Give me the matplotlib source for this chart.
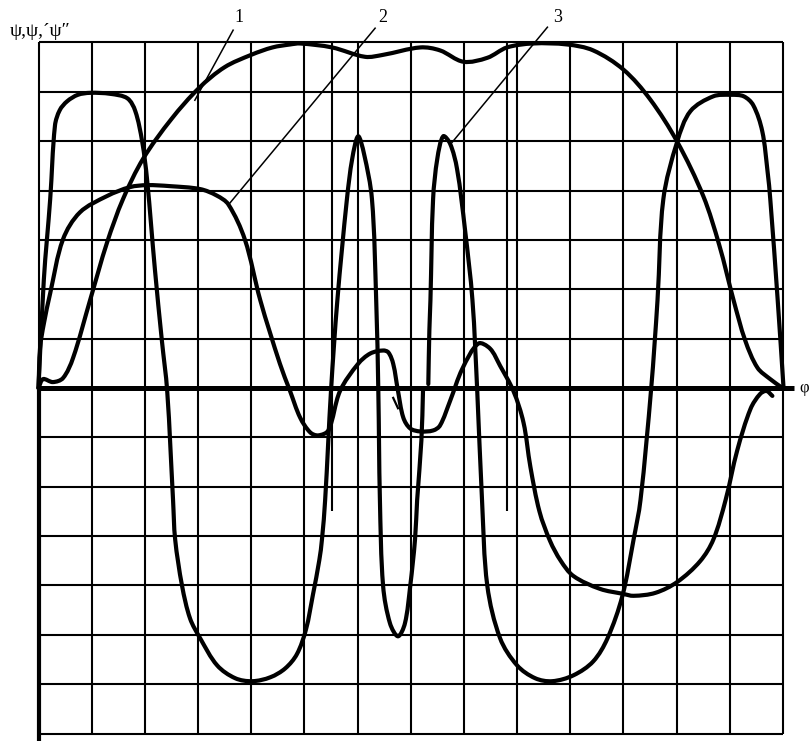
import matplotlib.pyplot as plt
import numpy as np
from matplotlib.path import Path
from matplotlib.patches import PathPatch

# curve 1 - psi (displacement)
phi_1 = [0, 0.085, 0.27, 0.46, 0.65, 0.97, 1.29, 1.59, 1.97, 2.5, 3.02, 3.5, 4.0, 4.4, 4.73, 4.92,
         5.52, 6.14, 6.48, 7.18, 7.55, 7.99, 8.44, 8.81, 9.30, 9.94, 10.43, 11.0, 11.5, 12.01,
         12.5, 12.8, 13.07, 13.29, 13.52, 13.76, 13.99]
psi_1 = [0, 0.18, 0.12, 0.20, 0.61, 1.78, 2.95, 3.83, 4.65, 5.45, 6.08, 6.5, 6.75, 6.9, 6.96, 6.98,
         6.90, 6.71, 6.75, 6.90, 6.84, 6.61, 6.69, 6.90, 6.98, 6.96, 6.84, 6.45, 5.85, 4.99,
         3.89, 2.9, 1.78, 0.96, 0.41, 0.18, 0]

# curve 2 - psi' (velocity)
phi_2 = [0, 0.03, 0.1, 0.22, 0.46, 0.78, 1.29, 1.72, 2.04, 2.47, 3.04, 3.35, 3.57, 3.88, 4.17,
         4.54, 4.73, 4.92, 5.11, 5.26, 5.45, 5.67, 6.01, 6.24, 6.48, 6.58, 6.67, 6.76, 6.86,
         6.99, 7.18, 7.42, 7.55, 7.74, 7.97, 8.27, 8.49, 8.68, 8.93, 9.12, 9.25, 9.42, 9.62, 9.82,
         10.06, 10.56, 10.99, 11.19, 11.60, 12.01, 12.44, 12.69, 12.92, 13.14, 13.39, 13.57, 13.69,
         13.80]
psi_2 = [0, 0.82, 1.3, 1.92, 3.01, 3.56, 3.89, 4.07, 4.11, 4.09, 4.03, 3.9, 3.72, 3.01, 1.78,
         0.49, -0.06, -0.60, -0.90, -0.96, -0.86, -0.06, 0.49, 0.70, 0.76, 0.72, 0.49, -0.06, -0.60,
         -0.82, -0.88, -0.86, -0.76, -0.26, 0.39, 0.90, 0.80, 0.45, -0.06, -0.70, -1.60, -2.50,
         -3.10, -3.50, -3.81, -4.07, -4.17, -4.21, -4.15, -3.93, -3.51, -3.07, -2.27, -1.26, -0.42,
         -0.12, -0.06, -0.16]

# curve 3 - psi'' (acceleration), drawn in two pieces
phi_3a = [0, 0.10, 0.22, 0.31, 0.40, 0.54, 0.74, 0.97, 1.35, 1.67, 1.82, 1.95, 2.04, 2.19, 2.32,
          2.42, 2.53, 2.57, 2.70, 2.85, 3.04, 3.36, 3.70, 4.02, 4.36, 4.64, 4.86, 5.03, 5.16, 5.28,
          5.33, 5.39, 5.50, 5.62, 5.80, 5.90, 6.01, 6.12, 6.27, 6.35, 6.39, 6.42, 6.48, 6.61, 6.76,
          6.89, 6.99, 7.08, 7.12, 7.20, 7.23]
psi_3a = [0, 2.19, 3.83, 5.32, 5.63, 5.81, 5.94, 5.98, 5.96, 5.87, 5.61, 4.99, 4.24, 2.39, 0.96,
          -0.06, -2.27, -3.07, -4.01, -4.67, -5.07, -5.62, -5.88, -5.94, -5.86, -5.68, -5.39, -4.89,
          -4.19, -3.49, -3.07, -2.27, -0.06, 1.78, 3.83, 4.65, 5.10, 4.75, 3.83, 1.78, -0.06, -2.27,
          -4.01, -4.77, -5.03, -4.77, -4.01, -3.07, -2.27, -1.06, -0.06]
phi_3b = [7.33, 7.35, 7.37, 7.42, 7.50, 7.61, 7.74, 7.87, 8.02, 8.16, 8.25, 8.34, 8.44, 8.68,
          9.00, 9.34, 9.66, 10.06, 10.43, 10.70, 10.98, 11.19, 11.32, 11.52, 11.64, 11.75, 12.01,
          12.26, 12.69, 13.02, 13.26, 13.44, 13.61, 13.71, 13.76, 13.90, 14.01]
psi_3b = [0.08, 1.17, 1.78, 3.83, 4.65, 5.10, 4.95, 4.44, 3.21, 1.78, -0.06, -2.27, -4.01, -5.07,
          -5.62, -5.88, -5.94, -5.82, -5.54, -5.07, -4.21, -3.07, -2.27, -0.02, 1.78, 3.83, 4.99,
          5.61, 5.91, 5.94, 5.91, 5.73, 5.20, 4.38, 3.83, 1.78, 0]

# grid positions
grid_x = list(range(0, 15))
extra_x = [5.52, 8.81]
grid_y = list(range(-7, 8))

# curve labels: number, text position, leader start, leader end
labels = [("1", (3.77, 7.50), (3.66, 7.25), (2.94, 5.83)),
          ("2", (6.48, 7.50), (6.33, 7.29), (3.57, 3.71)),
          ("3", (9.76, 7.50), (9.57, 7.31), (7.78, 4.98))]


def smooth_path(xs, ys):
    """Bezier path through the points, tangents from neighbouring chords."""
    p = np.column_stack([xs, ys]).astype(float)
    d = np.hypot(*np.diff(p, axis=0).T)
    n = len(p)
    tang = np.zeros_like(p)
    tang[0] = (p[1] - p[0]) / d[0]
    tang[-1] = (p[-1] - p[-2]) / d[-1]
    for i in range(1, n - 1):
        tang[i] = (p[i + 1] - p[i - 1]) / (d[i - 1] + d[i])
    verts = [p[0]]
    codes = [Path.MOVETO]
    for i in range(n - 1):
        verts += [p[i] + tang[i] * d[i] / 3, p[i + 1] - tang[i + 1] * d[i] / 3, p[i + 1]]
        codes += [Path.CURVE4] * 3
    return Path(verts, codes)


fig = plt.figure(figsize=(8.12, 7.43), dpi=100)
ax = fig.add_axes([0, 0, 1, 1])
ax.set_xlim(-0.724, 14.545)
ax.set_ylim(-7.192, 7.861)
ax.axis('off')

grid_kw = dict(color='black', lw=1.5, solid_capstyle='butt', zorder=1)
for gx in grid_x:
    ax.plot([gx, gx], [-7, 7], **grid_kw)
for gx in extra_x:
    ax.plot([gx, gx], [-2.5, 7], **grid_kw)
for gy in grid_y:
    if gy != 0:
        ax.plot([0, 14], [gy, gy], **grid_kw)

# axes
ax.plot([0, 14.2], [0, 0], color='black', lw=3.6, solid_capstyle='butt', zorder=2)
ax.plot([0, 0], [0, -7.15], color='black', lw=3.0, solid_capstyle='butt', zorder=2)

for xs, ys in [(phi_1, psi_1), (phi_2, psi_2), (phi_3a, psi_3a), (phi_3b, psi_3b)]:
    ax.add_patch(PathPatch(smooth_path(xs, ys), facecolor='none', edgecolor='black',
                           lw=3.0, joinstyle='round', capstyle='round', zorder=3))

# small stroke near the middle of the axis
ax.plot([6.67, 6.76], [-0.20, -0.41], color='black', lw=1.6, zorder=3)

serif = ['Liberation Serif', 'DejaVu Serif']
for num, (tx, ty), (x0, y0), (x1, y1) in labels:
    ax.text(tx, ty, num, fontsize=13, family=serif, ha='center', va='center')
    ax.plot([x0, x1], [y0, y1], color='black', lw=1.1, zorder=3)

ax.text(-0.54, 7.22, "ψ,ψ,´ψ″", fontsize=14, family=serif, ha='left', va='center')
ax.text(14.30, 0.0, "φ", fontsize=12, family=serif, ha='left', va='center')

fig.savefig('out.png', dpi=100)
